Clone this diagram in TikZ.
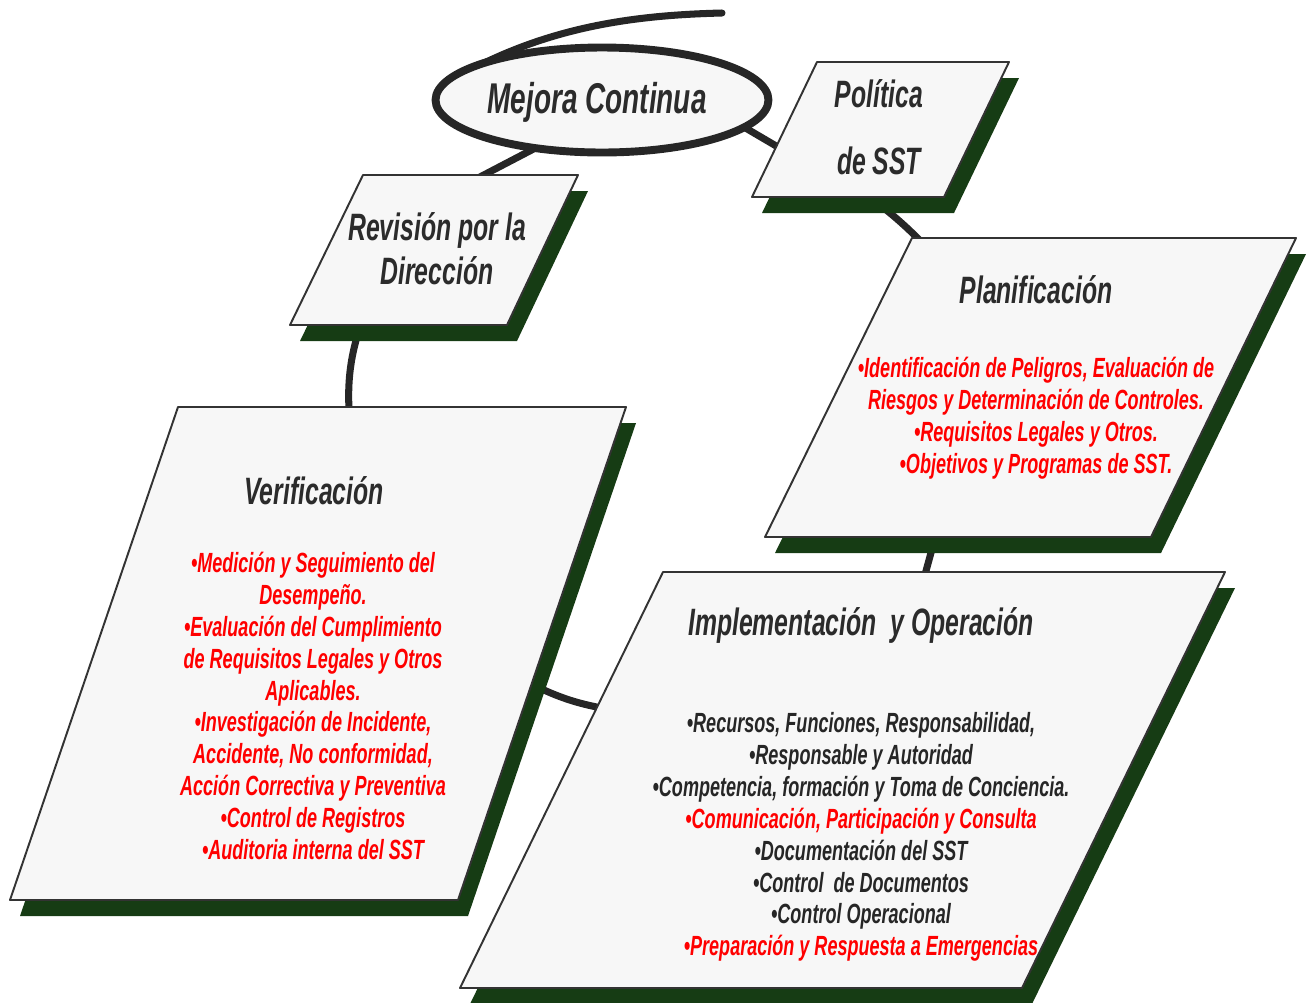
\documentclass[tikz,border=0pt]{standalone}
\usepackage{fontspec}
\usetikzlibrary{shapes.geometric}
\newfontfamily\nf{Liberation Sans}[FakeStretch=0.65]
\definecolor{verdeosc}{RGB}{22,60,20}
\definecolor{grisfondo}{RGB}{247,247,247}
\definecolor{grisborde}{RGB}{51,51,51}
\definecolor{grislinea}{RGB}{38,38,38}
\definecolor{gristexto}{RGB}{43,43,43}
\begin{document}
\begin{tikzpicture}[x=0.02cm,y=-0.02cm,line join=round,line cap=round,
	caja/.style={fill=grisfondo,draw=grisborde,line width=1.1pt},
	sombra/.style={fill=verdeosc,shift={(10,16)}},
	enlace/.style={draw=grislinea,line width=4pt},
	titulo/.style={font=\nf\bfseries\itshape\fontsize{21.7}{24.9}\selectfont,text=gristexto,align=center,inner sep=0pt},
	lista/.style={font=\nf\bfseries\itshape\fontsize{15.8}{18.14}\selectfont,text=red,align=center,inner sep=0pt}]
	\useasboundingbox (0,0) rectangle (1311,1002);
	% puntos de union del ciclo
	\coordinate (mej-a) at (545,143); \coordinate (rev-a) at (455,190);
	\coordinate (mej-b) at (720,113); \coordinate (pol-a) at (800,160);
	\coordinate (pol-b) at (860,190); \coordinate (pla-a) at (940,262);
	\coordinate (pla-b) at (940,520); \coordinate (imp-a) at (918,600);
	\coordinate (imp-b) at (630,712); \coordinate (ver-a) at (510,672);
	\coordinate (ver-b) at (352,440); \coordinate (rev-b) at (370,300);
	\coordinate (mej-c) at (478,66); \coordinate (cola) at (722,13);
	\draw[enlace] (mej-c) .. controls (560,25) and (640,15) .. (cola);
	\draw[enlace] (mej-a)--(rev-a);
	\draw[enlace] (mej-b)--(pol-a);
	\draw[enlace] (pol-b) to[bend left=6] (pla-a);
	\draw[enlace] (pla-b)--(imp-a);
	\draw[enlace] (imp-b) to[bend left=12] (ver-a);
	\draw[enlace] (ver-b) to[bend left=15] (rev-b);
	% Revision por la Direccion
	\fill[sombra] (363,175)--(578,175)--(507,325)--(290,325)--cycle;
	\draw[caja] (363,175)--(578,175)--(507,325)--(290,325)--cycle;
	% Politica de SST
	\fill[sombra] (817,62)--(1009,62)--(944,197)--(752,197)--cycle;
	\draw[caja] (817,62)--(1009,62)--(944,197)--(752,197)--cycle;
	% Planificacion
	\fill[sombra] (912,238)--(1296,238)--(1151,537)--(765,537)--cycle;
	\draw[caja] (912,238)--(1296,238)--(1151,537)--(765,537)--cycle;
	% Verificacion
	\fill[sombra] (178,407)--(626,407)--(458,900)--(10,900)--cycle;
	\draw[caja] (178,407)--(626,407)--(458,900)--(10,900)--cycle;
	% Implementacion y Operacion
	\fill[sombra] (663,572)--(1225,572)--(1022,988)--(460,988)--cycle;
	\draw[caja] (663,572)--(1225,572)--(1022,988)--(460,988)--cycle;
	\node[ellipse,fill=grisfondo,draw=grislinea,line width=4.5pt,minimum width=6.66cm,minimum height=2.1cm] (mejora) at (602,100) {};
	\node[titulo,font=\nf\bfseries\itshape\fontsize{24.5}{28}\selectfont] (mejora-t) at (597,102) {Mejora Continua};
	\node[titulo] (revision) at (437,249) {Revisión por la\\Dirección};
	\node[titulo,font=\nf\bfseries\itshape\fontsize{21.7}{38}\selectfont] (politica) at (879,127) {Política\\de SST};
	\node[titulo] (planif) at (1036,290) {Planificación};
	\node[lista] (planif-l) at (1036,418) {•Identificación de Peligros, Evaluación de\\Riesgos y Determinación de Controles.\\•Requisitos Legales y Otros.\\•Objetivos y Programas de SST.};
	\node[titulo] (verif) at (314,491) {Verificación};
	\node[lista] (verif-l) at (313,706) {•Medición y Seguimiento del\\Desempeño.\\•Evaluación del Cumplimiento\\de Requisitos Legales y Otros\\Aplicables.\\•Investigación de Incidente,\\Accidente, No conformidad,\\Acción Correctiva y Preventiva\\•Control de Registros\\•Auditoria interna del SST};
	\node[titulo] (implem) at (861,625) {Implementación~ y Operación};
	\node[lista,text=grislinea] (implem-l) at (861,837) {•Recursos, Funciones, Responsabilidad,\\•Responsable y Autoridad\\•Competencia, formación y Toma de Conciencia.\\\textcolor{red}{•Comunicación, Participación y Consulta}\\•Documentación del SST\\•Control~ de Documentos\\•Control Operacional\\\textcolor{red}{•Preparación y Respuesta a Emergencias}};
\end{tikzpicture}
\end{document}
